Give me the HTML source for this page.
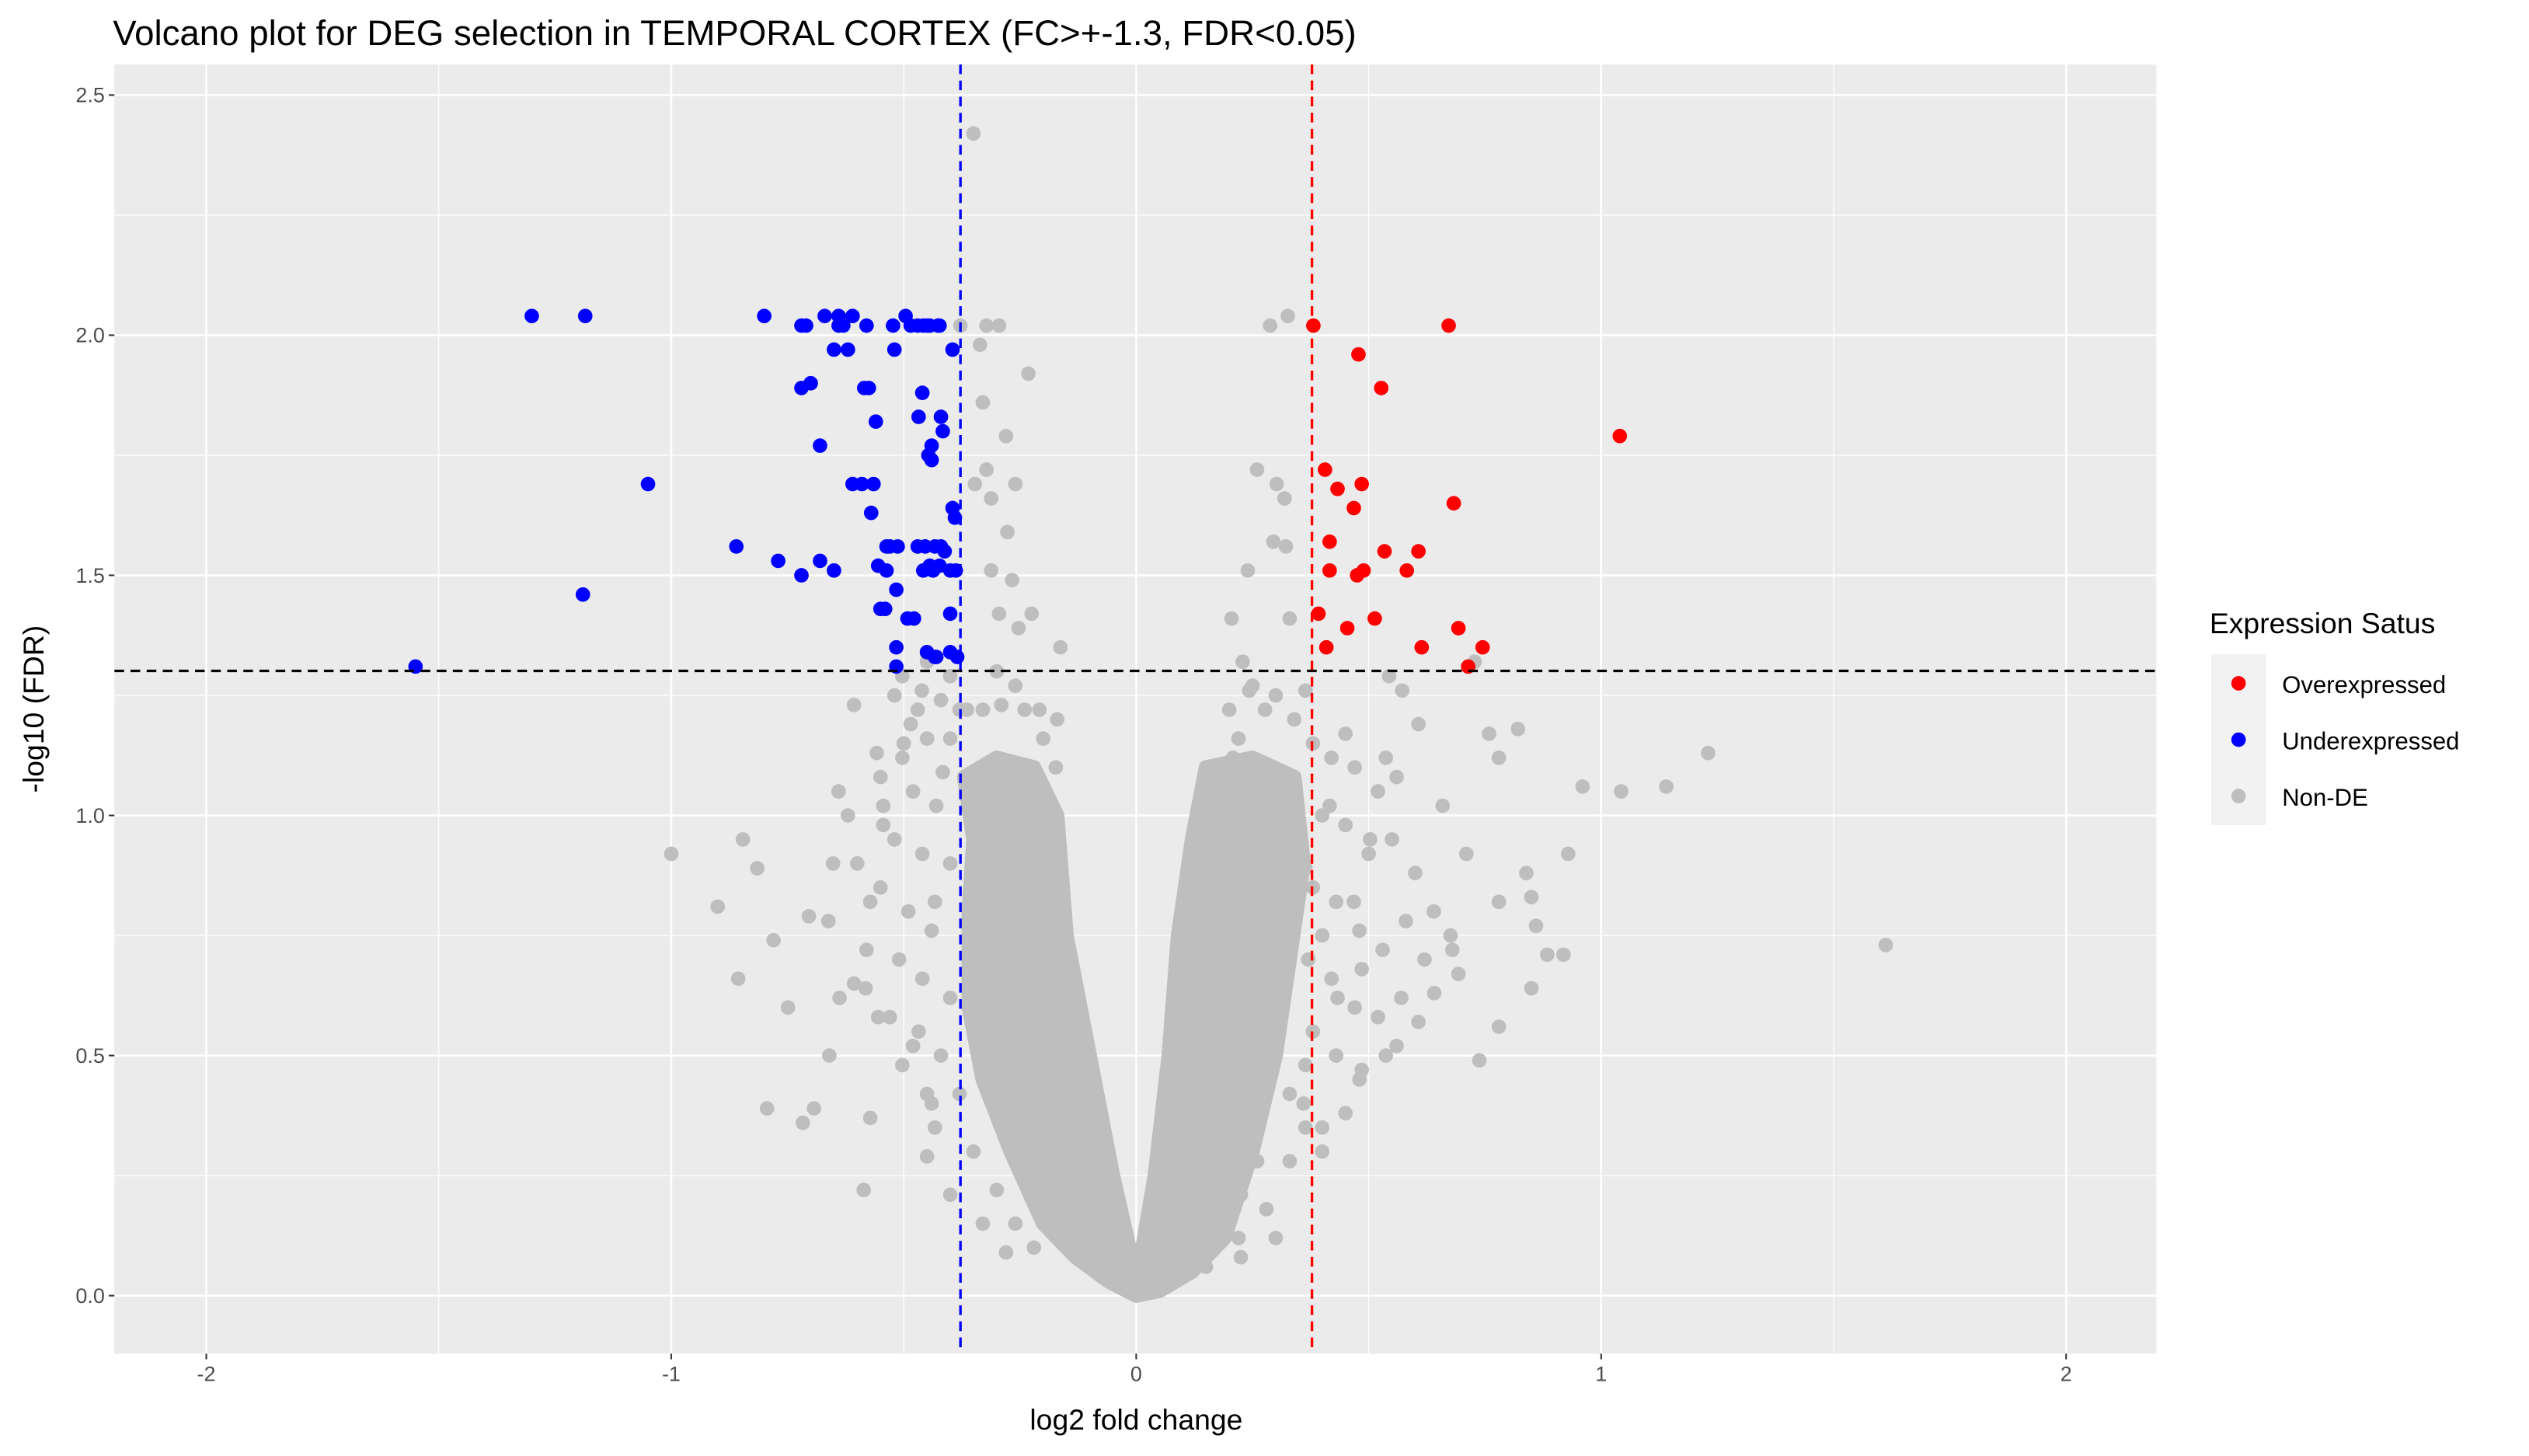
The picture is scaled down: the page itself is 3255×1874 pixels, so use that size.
<!DOCTYPE html>
<html><head><meta charset="utf-8"><style>
html,body{margin:0;padding:0;background:#fff}
svg{display:block;font-family:"Liberation Sans",Arial,sans-serif}
</style></head><body>
<svg id="chart" width="3255" height="1874" viewBox="0 0 1569.2 903.5" preserveAspectRatio="none" xmlns="http://www.w3.org/2000/svg">
<rect x="0" y="0" width="1569.2" height="903.5" fill="#fff"/>
<text x="70" y="28" font-size="22" fill="#000">Volcano plot for DEG selection in TEMPORAL CORTEX (FC&gt;+-1.3, FDR&lt;0.05)</text>
<rect x="71" y="40" width="1267" height="800" fill="#ebebeb"/>
<g id="grid"></g>
<g id="marks"></g>
<g id="refs"></g>
<g id="axes"></g>
<text x="705" y="887" font-size="18" text-anchor="middle" fill="#000">log2 fold change</text>
<text transform="translate(27,440) rotate(-90)" font-size="18" text-anchor="middle" fill="#000">-log10 (FDR)</text>
<g>
<text x="1371" y="393" font-size="18" fill="#000">Expression Satus</text>
<rect x="1372" y="406" width="34" height="106" fill="#f2f2f2"/>
<circle cx="1389" cy="424" r="4.5" fill="#ff0000"/>
<circle cx="1389" cy="459" r="4.5" fill="#0000ff"/>
<circle cx="1389" cy="494" r="4.5" fill="#bebebe"/>
<text x="1416" y="430" font-size="15" fill="#000">Overexpressed</text>
<text x="1416" y="465" font-size="15" fill="#000">Underexpressed</text>
<text x="1416" y="500" font-size="15" fill="#000">Non-DE</text>
</g>
</svg>
<script>
const xTicks=[-2,-1,0,1,2];
const xTickLabels=["-2","-1","0","1","2"];
const yTicks=[0,0.5,1,1.5,2,2.5];
const yTickLabels=["0.0","0.5","1.0","1.5","2.0","2.5"];
const fcThreshold=0.378;
const fdrThreshold=1.301;
const upX=[0.381,0.478,0.672,0.527,1.04,0.406,0.433,0.485,0.468,0.683,0.416,0.534,0.607,0.416,0.489,0.475,0.582,0.392,0.513,0.454,0.693,0.409,0.614,0.745,0.714];
const upY=[2.02,1.96,2.02,1.89,1.79,1.72,1.68,1.69,1.64,1.65,1.57,1.55,1.55,1.51,1.51,1.50,1.51,1.42,1.41,1.39,1.39,1.35,1.35,1.35,1.31];
const downX=[-1.30,-1.185,-1.55,-1.19,-1.05,-0.86,-0.80,-0.77,-0.72,-0.71,-0.67,-0.72,-0.70,-0.68,-0.72,-0.68,-0.65,-0.65,-0.64,-0.64,-0.62,-0.61,-0.63,-0.61,-0.59,-0.565,-0.585,-0.575,-0.58,-0.57,-0.56,-0.555,-0.55,-0.54,-0.537,-0.537,-0.52,-0.523,-0.53,-0.513,-0.516,-0.516,-0.516,-0.496,-0.492,-0.485,-0.478,-0.47,-0.47,-0.468,-0.46,-0.458,-0.45,-0.444,-0.458,-0.454,-0.45,-0.444,-0.447,-0.44,-0.437,-0.433,-0.43,-0.426,-0.423,-0.44,-0.433,-0.42,-0.416,-0.412,-0.40,-0.40,-0.395,-0.395,-0.39,-0.388,-0.385,-0.40,-0.42,-0.423];
const downY=[2.04,2.04,1.31,1.46,1.69,1.56,2.04,1.53,2.02,2.02,2.04,1.89,1.90,1.77,1.50,1.53,1.51,1.97,2.02,2.04,1.97,2.04,2.02,1.69,1.69,1.69,1.89,1.89,2.02,1.63,1.82,1.52,1.43,1.43,1.51,1.56,1.97,2.02,1.56,1.56,1.47,1.35,1.31,2.04,1.41,2.02,1.41,2.02,1.56,1.83,1.88,2.02,2.02,2.02,1.51,1.56,1.34,1.52,1.75,1.74,1.51,1.56,1.33,2.02,2.02,1.77,1.33,1.83,1.80,1.55,1.34,1.42,1.97,1.64,1.62,1.51,1.33,1.51,1.56,1.52];
const nsX=[-0.35,0.326,0.288,-0.378,-0.322,-0.295,-0.336,-0.232,-0.28,0.26,0.302,0.319,0.295,0.322,0.24,0.205,0.229,0.33,-0.163,-0.225,-0.607,-0.64,-0.558,-0.544,-0.652,-0.815,-1.0,-0.846,-0.90,-0.856,-0.794,-0.717,-0.693,-0.749,-0.638,-0.662,-0.78,-0.704,-0.582,-0.572,-0.586,-0.45,-0.503,-0.555,1.612,1.23,1.14,1.043,0.96,0.929,0.839,0.821,0.759,0.78,0.85,0.78,0.738,0.78,0.85,0.884,0.919,0.86,0.693,0.641,0.607,0.537,0.485,0.45,0.40,0.676,0.71,0.659,0.607,0.537,0.503,0.468,0.572,0.544,0.728,-0.208,-0.173,-0.607,-0.572,-0.544,-0.503,-0.485,-0.461,-0.503,-0.45,-0.416,-0.433,-0.468,-0.45,-0.433,-0.40,0.225,0.26,0.33,0.364,0.433,0.40,0.364,0.312,0.277,0.243,0.364,0.45,0.416,0.485,0.364,0.19,0.225,-0.33,-0.26,-0.312,-0.277,-0.312,-0.267,-0.295,-0.253,-0.33,-0.347,-0.322,0.208,0.27,-0.364,-0.40,
-0.52,-0.47,-0.42,-0.38,-0.33,-0.29,-0.24,-0.30,-0.26,-0.5,-0.45,-0.40,-0.55,-0.48,-0.43,-0.52,-0.46,-0.40,-0.55,-0.49,-0.44,-0.51,-0.46,-0.40,-0.53,-0.48,-0.42,-0.38,-0.44,-0.35,-0.30,-0.26,-0.22,-0.28,-0.17,-0.20,-0.62,-0.58,-0.60,-0.66,
0.38,0.42,0.47,0.52,0.56,0.40,0.45,0.50,0.55,0.60,0.38,0.43,0.48,0.53,0.58,0.64,0.37,0.42,0.47,0.52,0.57,0.38,0.43,0.48,0.36,0.40,0.33,0.28,0.22,0.30,0.15,0.20,0.25,0.30,0.34,0.22,0.62,0.68,0.56];
const nsY=[2.42,2.04,2.02,2.02,2.02,2.02,1.98,1.92,1.79,1.72,1.69,1.66,1.57,1.56,1.51,1.41,1.32,1.41,1.35,1.42,1.23,1.05,1.13,0.98,0.90,0.89,0.92,0.95,0.81,0.66,0.39,0.36,0.39,0.60,0.62,0.78,0.74,0.79,0.64,0.37,0.22,0.29,0.48,0.58,0.73,1.13,1.06,1.05,1.06,0.92,0.88,1.18,1.17,1.12,0.83,0.82,0.49,0.56,0.64,0.71,0.71,0.77,0.67,0.63,0.57,0.50,0.47,0.38,0.30,0.75,0.92,1.02,1.19,1.12,0.95,0.82,1.26,1.29,1.32,1.22,1.10,0.65,0.82,1.02,1.12,1.19,1.26,1.29,1.32,1.09,0.82,0.55,0.42,0.35,0.21,0.21,0.28,0.42,0.48,0.62,0.75,0.89,1.09,1.22,1.26,1.26,1.17,1.02,0.68,0.35,0.15,0.08,0.15,1.69,1.66,1.59,1.51,1.49,1.42,1.39,1.86,1.69,1.72,1.12,0.72,1.22,1.29,
1.25,1.22,1.24,1.22,1.22,1.23,1.22,1.30,1.27,1.15,1.16,1.16,1.08,1.05,1.02,0.95,0.92,0.90,0.85,0.80,0.76,0.70,0.66,0.62,0.58,0.52,0.50,0.42,0.40,0.30,0.22,0.15,0.10,0.09,1.20,1.16,1.0,0.72,0.9,0.5,
1.15,1.12,1.10,1.05,1.08,1.0,0.98,0.92,0.95,0.88,0.85,0.82,0.76,0.72,0.78,0.80,0.70,0.66,0.60,0.58,0.62,0.55,0.50,0.45,0.40,0.35,0.28,0.18,0.12,0.12,0.06,1.22,1.27,1.25,1.2,1.16,0.70,0.72,0.52];
const coreX=[0,-0.06,-0.13,-0.2,-0.27,-0.33,-0.36,-0.36,-0.35,-0.37,-0.30,-0.22,-0.17,-0.15,-0.10,-0.05,-0.01,0.01,0.04,0.07,0.09,0.12,0.15,0.25,0.34,0.36,0.33,0.30,0.25,0.19,0.12,0.05];
const coreY=[0.0,0.03,0.08,0.15,0.3,0.45,0.6,0.8,0.95,1.08,1.12,1.10,1.0,0.75,0.5,0.25,0.08,0.08,0.25,0.5,0.75,0.95,1.1,1.12,1.08,0.9,0.7,0.5,0.3,0.12,0.05,0.01];

const NS="http://www.w3.org/2000/svg";
const X0=71,X1=1338,Y0=40,Y1=840;
function sx(v){return 705+v*288.5;}
function sy(v){return 804-v*298;}
function mk(tag,attrs,parent){const e=document.createElementNS(NS,tag);for(const k in attrs)e.setAttribute(k,attrs[k]);parent.appendChild(e);return e;}
const grid=document.getElementById('grid'),marks=document.getElementById('marks'),refs=document.getElementById('refs'),axes=document.getElementById('axes');
for(let i=0;i<xTicks.length-1;i++){
  const m=(xTicks[i]+xTicks[i+1])/2;
  const l=mk('line',{x1:sx(m),x2:sx(m),y1:Y0,y2:Y1,stroke:'#fff','stroke-width':0.6},grid);
  
  
}
for(let i=0;i<yTicks.length-1;i++){
  const m=(yTicks[i]+yTicks[i+1])/2;
  const l=mk('line',{x1:X0,x2:X1,y1:sy(m),y2:sy(m),stroke:'#fff','stroke-width':0.6},grid);
  
  
}
xTicks.forEach((t,i)=>{
  const l=mk('line',{x1:sx(t),x2:sx(t),y1:Y0,y2:Y1,stroke:'#fff','stroke-width':1.2},grid);
  
  
  const tk=mk('line',{x1:sx(t),x2:sx(t),y1:Y1,y2:Y1+3.5,stroke:'#333','stroke-width':1},axes);
  
  
  const tx=mk('text',{x:sx(t),y:Y1+17,'font-size':13,'text-anchor':'middle',fill:'#4d4d4d'},axes);
  tx.textContent=xTickLabels[i];
  
  
});
yTicks.forEach((t,i)=>{
  const l=mk('line',{x1:X0,x2:X1,y1:sy(t),y2:sy(t),stroke:'#fff','stroke-width':1.2},grid);
  
  
  const tk=mk('line',{x1:X0-3.5,x2:X0,y1:sy(t),y2:sy(t),stroke:'#333','stroke-width':1},axes);
  
  
  const tx=mk('text',{x:X0-6,y:sy(t)+4.5,'font-size':13,'text-anchor':'end',fill:'#4d4d4d'},axes);
  tx.textContent=yTickLabels[i];
  
  
});
const core=mk('polygon',{points:coreX.map((x,i)=>sx(x)+','+sy(coreY[i])).join(' '),fill:'#bebebe',stroke:'#bebebe','stroke-width':9,'stroke-linejoin':'round'},marks);


nsX.forEach((x,i)=>{
  const c=mk('circle',{cx:sx(x),cy:sy(nsY[i]),r:4.5,fill:'#bebebe'},marks);
  
  
});
downX.forEach((x,i)=>{
  const c=mk('circle',{cx:sx(x),cy:sy(downY[i]),r:4.5,fill:'#0000ff'},marks);
  
  
});
upX.forEach((x,i)=>{
  const c=mk('circle',{cx:sx(x),cy:sy(upY[i]),r:4.5,fill:'#ff0000'},marks);
  
  
});
const vb=mk('line',{x1:sx(-fcThreshold),x2:sx(-fcThreshold),y1:Y0,y2:Y1,stroke:'#0000ff','stroke-width':1.6,'stroke-dasharray':'6,4'},refs);


const vr=mk('line',{x1:sx(fcThreshold),x2:sx(fcThreshold),y1:Y0,y2:Y1,stroke:'#ff0000','stroke-width':1.6,'stroke-dasharray':'6,4'},refs);


const hl=mk('line',{x1:X0,x2:X1,y1:sy(fdrThreshold),y2:sy(fdrThreshold),stroke:'#000','stroke-width':1.6,'stroke-dasharray':'6,4'},refs);


</script>
</body></html>
